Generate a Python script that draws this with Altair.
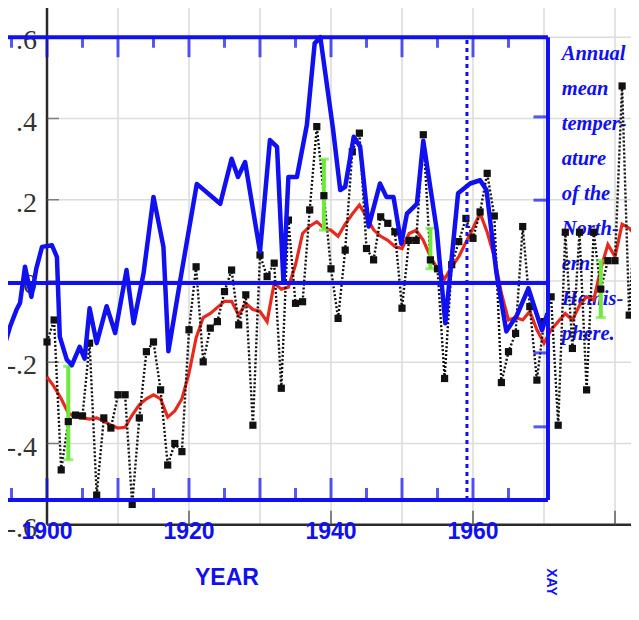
import altair as alt
import pandas as pd

# ---------------- data ----------------
years = list(range(1900, 1984))
annual = [-0.15, -0.096, -0.465, -0.346, -0.33, -0.332, -0.153, -0.527, -0.337, -0.362,
          -0.28, -0.28, -0.55, -0.337, -0.174, -0.15, -0.268, -0.453, -0.40, -0.42,
          -0.12, 0.035, -0.199, -0.116, -0.10, -0.026, 0.027, -0.108, -0.034, -0.355,
          0.064, 0.011, 0.044, -0.264, 0.15, -0.055, -0.051, 0.175, 0.38, 0.21,
          0.03, -0.092, 0.076, 0.318, 0.364, 0.08, 0.052, 0.158, 0.142, 0.121,
          -0.067, 0.10, 0.10, 0.36, 0.052, 0.03, -0.24, 0.04, 0.097, 0.154,
          0.105, 0.17, 0.265, 0.16, -0.25, -0.174, -0.129, 0.134, -0.063, -0.244,
          -0.10, -0.039, -0.355, 0.12, -0.166, 0.12, -0.268, 0.12, -0.02, 0.05,
          0.05, 0.48, -0.084, 0.22]
smooth = [-0.236, -0.26, -0.29, -0.325, -0.335, -0.337, -0.34, -0.337, -0.345, -0.355,
          -0.362, -0.36, -0.33, -0.305, -0.29, -0.28, -0.29, -0.335, -0.32, -0.29,
          -0.227, -0.14, -0.09, -0.08, -0.065, -0.05, -0.05, -0.084, -0.055, -0.07,
          -0.075, -0.10, -0.005, -0.02, -0.015, 0.04, 0.117, 0.135, 0.146, 0.13,
          0.125, 0.11, 0.14, 0.165, 0.187, 0.158, 0.126, 0.11, 0.10, 0.085,
          0.08, 0.117, 0.125, 0.10, 0.06, 0.03, 0.005, 0.035, 0.06, 0.095,
          0.13, 0.167, 0.12, 0.06, -0.03, -0.096, -0.09, -0.096, -0.075, -0.12,
          -0.153, -0.12, -0.10, -0.08, -0.096, -0.06, -0.039, -0.047, 0.03, 0.09,
          0.06, 0.14, 0.13, 0.11]

err_year = [1903, 1939, 1954, 1978]
err_lo = [-0.44, 0.125, 0.03, -0.09]
err_hi = [-0.21, 0.30, 0.13, 0.05]

# old (blue) chart trace
old_year = [1893.4, 1894.8, 1895.7, 1896.2, 1896.9, 1897.8, 1898.5, 1899.3, 1900.7, 1901.4,
            1901.8, 1902.8, 1903.5, 1904.6, 1905.3, 1906.0, 1907.0, 1908.4, 1909.6, 1911.2,
            1912.2, 1913.6, 1915.0, 1916.4, 1917.1, 1918.7, 1921.1, 1924.4, 1926.0, 1926.9,
            1927.9, 1930.0, 1931.4, 1932.4, 1933.3, 1934.0, 1935.2, 1936.6, 1937.7, 1938.5,
            1940.3, 1941.3, 1942.0, 1943.2, 1944.1, 1945.3, 1946.9, 1947.8, 1948.8, 1949.9,
            1950.7, 1952.1, 1953.0, 1954.9, 1956.1, 1957.9, 1959.6, 1961.0, 1961.9, 1963.3,
            1964.7, 1966.2, 1967.8, 1969.7, 1970.5]
old_val = [-0.195, -0.112, -0.071, -0.054, 0.035, -0.039, 0.031, 0.084, 0.088, 0.059,
           -0.137, -0.194, -0.207, -0.162, -0.191, -0.067, -0.153, -0.062, -0.128, 0.027,
           -0.104, 0.019, 0.207, 0.084, -0.173, -0.005, 0.239, 0.19, 0.301, 0.256,
           0.293, 0.072, 0.347, 0.33, -0.002, 0.256, 0.256, 0.384, 0.585, 0.60,
           0.372, 0.224, 0.232, 0.355, 0.331, 0.134, 0.24, 0.207, 0.207, 0.092,
           0.166, 0.19, 0.345, 0.125, -0.104, 0.216, 0.24, 0.248, 0.224, 0.02,
           -0.124, -0.084, -0.018, -0.121, -0.08]

# old chart frame (in the new chart's coordinates)
old_left, old_right = 1885.0, 1970.56
old_top, old_bottom, old_zero = 0.60, -0.539, -0.005
old_dash_year = 1959.15
old_major_ticks = [1900, 1910, 1920, 1930, 1940, 1950, 1960]
old_minor_ticks = [1895, 1905, 1915, 1925, 1935, 1945, 1955, 1965]
old_right_ticks = [0.404, 0.199, -0.177, -0.359]
old_x_labels = ["1900", "1920", "1940", "1960"]
old_x_label_years = [1900, 1920, 1940, 1960]
old_note = "Annual\nmean\ntemper-\nature\nof the\nNorth-\nern\nHemis-\nphere."

# new chart axes
y_tick_vals = [0.6, 0.4, 0.2, 0.0, -0.2, -0.4, -0.6]
y_tick_text = [".6", ".4", ".2", "0", "-.2", "-.4", "-.6"]
grid_years = [1910, 1920, 1930, 1940, 1950, 1960, 1970, 1980]
grid_vals = [0.6, 0.4, 0.2, 0.0, -0.2, -0.4]
x_major_ticks = [1920, 1940, 1960, 1980]

X_DOM = [1894.507, 1982.254]
Y_DOM = [-0.8, 0.672]

BLUE = "#1010f0"
RED = "#e82a1e"
GREEN = "#6ee83a"

xs = alt.Scale(domain=X_DOM, nice=False, zero=False)
ys = alt.Scale(domain=Y_DOM, nice=False, zero=False)


def X(f):
    return alt.X(f, type="quantitative", scale=xs, axis=None)


def Y(f):
    return alt.Y(f, type="quantitative", scale=ys, axis=None)


# ---------------- layers ----------------
gv = pd.DataFrame({"x": grid_years, "y": -0.6, "y2": Y_DOM[1]})
grid_v = alt.Chart(gv).mark_rule(color="#dcdcdc", strokeWidth=1.6).encode(
    x=X("x"), y=Y("y"), y2="y2")
gh = pd.DataFrame({"y": grid_vals, "x": 1900, "x2": X_DOM[1]})
grid_h = alt.Chart(gh).mark_rule(color="#dcdcdc", strokeWidth=1.6).encode(
    x=X("x"), x2="x2", y=Y("y"))

ax = pd.DataFrame({"x": [1900, 1900], "x2": [1900, X_DOM[1]],
                   "y": [-0.6, -0.6], "y2": [Y_DOM[1], -0.6]})
axes = alt.Chart(ax).mark_rule(color="#2a2a2a", strokeWidth=2.5).encode(
    x=X("x"), x2="x2", y=Y("y"), y2="y2")

yt = pd.DataFrame({"x": 1900, "y": y_tick_vals, "t": y_tick_text})
y_ticks = alt.Chart(yt).mark_tick(orient="horizontal", color="#555", size=12,
                                  thickness=1.5, xOffset=6).encode(x=X("x"), y=Y("y"))
y_labels = alt.Chart(yt).mark_text(align="right", baseline="middle", dx=-10, dy=4,
                                   font="Liberation Serif", fontSize=28,
                                   color="#333").encode(x=X("x"), y=Y("y"), text="t:N")
xt = pd.DataFrame({"x": x_major_ticks, "y": -0.6})
x_ticks = alt.Chart(xt).mark_tick(orient="vertical", color="#555", size=14,
                                  thickness=2, yOffset=-7).encode(x=X("x"), y=Y("y"))

note = alt.Chart(pd.DataFrame({"x": [1972.5], "y": [0.544], "t": [old_note]})).mark_text(
    align="left", baseline="alphabetic", lineBreak="\n", lineHeight=35,
    font="Liberation Serif", fontStyle="italic", fontWeight="bold", fontSize=20.5,
    color=BLUE).encode(x=X("x"), y=Y("y"), text="t:N")

df = pd.DataFrame({"year": years, "annual": annual, "smooth": smooth})
red = alt.Chart(df).mark_line(color=RED, strokeWidth=3.2).encode(x=X("year"), y=Y("smooth"))
dotted = alt.Chart(df).mark_line(color="#111", strokeWidth=2.4, strokeDash=[2, 2]).encode(
    x=X("year"), y=Y("annual"))
squares = alt.Chart(df).mark_square(color="#111", opacity=1, size=52).encode(
    x=X("year"), y=Y("annual"))

er = pd.DataFrame({"x": err_year, "lo": err_lo, "hi": err_hi})
err_bar = alt.Chart(er).mark_rule(color=GREEN, strokeWidth=4).encode(
    x=X("x"), y=Y("lo"), y2="hi")
err_cap_lo = alt.Chart(er).mark_tick(orient="horizontal", color=GREEN, size=10,
                                     thickness=3).encode(x=X("x"), y=Y("lo"))
err_cap_hi = alt.Chart(er).mark_tick(orient="horizontal", color=GREEN, size=10,
                                     thickness=3).encode(x=X("x"), y=Y("hi"))

old = pd.DataFrame({"year": old_year, "val": old_val})
old_line = alt.Chart(old).mark_line(color=BLUE, strokeWidth=4.5, strokeJoin="round").encode(
    x=X("year"), y=Y("val"))

fr = pd.DataFrame({
    "x": [old_left, old_left, old_right, old_left],
    "x2": [old_right, old_right, old_right, old_right],
    "y": [old_top, old_bottom, old_bottom, old_zero],
    "y2": [old_top, old_bottom, old_top, old_zero],
})
frame = alt.Chart(fr).mark_rule(color=BLUE, strokeWidth=4).encode(
    x=X("x"), x2="x2", y=Y("y"), y2="y2")
dash = alt.Chart(pd.DataFrame({"x": [old_dash_year], "y": [old_bottom], "y2": [old_top]})).mark_rule(
    color=BLUE, strokeWidth=3, strokeDash=[4, 4]).encode(x=X("x"), y=Y("y"), y2="y2")

tmaj = pd.DataFrame({"x": old_major_ticks, "top": old_top, "bot": old_bottom})
tmin = pd.DataFrame({"x": old_minor_ticks, "top": old_top, "bot": old_bottom})
top_major = alt.Chart(tmaj).mark_tick(orient="vertical", color=BLUE, size=20, thickness=3,
                                      yOffset=10).encode(x=X("x"), y=Y("top"))
top_minor = alt.Chart(tmin).mark_tick(orient="vertical", color=BLUE, size=11, thickness=3,
                                      yOffset=5).encode(x=X("x"), y=Y("top"))
bot_major = alt.Chart(tmaj).mark_tick(orient="vertical", color=BLUE, size=22, thickness=3,
                                      yOffset=-11).encode(x=X("x"), y=Y("bot"))
bot_minor = alt.Chart(tmin).mark_tick(orient="vertical", color=BLUE, size=12, thickness=3,
                                      yOffset=-6).encode(x=X("x"), y=Y("bot"))
rt = pd.DataFrame({"x": old_right, "y": old_right_ticks})
right_ticks = alt.Chart(rt).mark_tick(orient="horizontal", color=BLUE, size=15, thickness=3,
                                      xOffset=-7).encode(x=X("x"), y=Y("y"))

xl = pd.DataFrame({"x": old_x_label_years, "y": -0.618, "t": old_x_labels})
x_labels = alt.Chart(xl).mark_text(align="center", baseline="middle",
                                   font="Liberation Sans", fontWeight="bold",
                                   fontSize=23, color=BLUE).encode(
    x=X("x"), y=Y("y"), text="t:N")
year_title = alt.Chart(pd.DataFrame({"x": [1925.35], "y": [-0.731], "t": ["YEAR"]})).mark_text(
    align="center", baseline="middle", font="Liberation Sans",
    fontWeight="bold", fontSize=23, color=BLUE).encode(x=X("x"), y=Y("y"), text="t:N")
side = alt.Chart(pd.DataFrame({"x": [1971.0], "y": [-0.741], "t": ["XAY"]})).mark_text(
    align="center", baseline="middle", angle=90, font="Liberation Sans",
    fontWeight="bold", fontSize=14, color=BLUE).encode(x=X("x"), y=Y("y"), text="t:N")

chart = alt.layer(
    grid_v, grid_h, axes, y_ticks, x_ticks, y_labels, note,
    red, dotted, err_bar, err_cap_lo, err_cap_hi, squares,
    old_line, frame, dash, top_major, top_minor, bot_major, bot_minor, right_ticks,
    x_labels, year_title, side,
).properties(
    width=623, height=598,
    autosize=alt.AutoSizeParams(type="none"),
    padding=0,
    background="white",
).configure_view(stroke=None)

chart.save("out.html", embed_options={"renderer": "svg", "actions": False})
